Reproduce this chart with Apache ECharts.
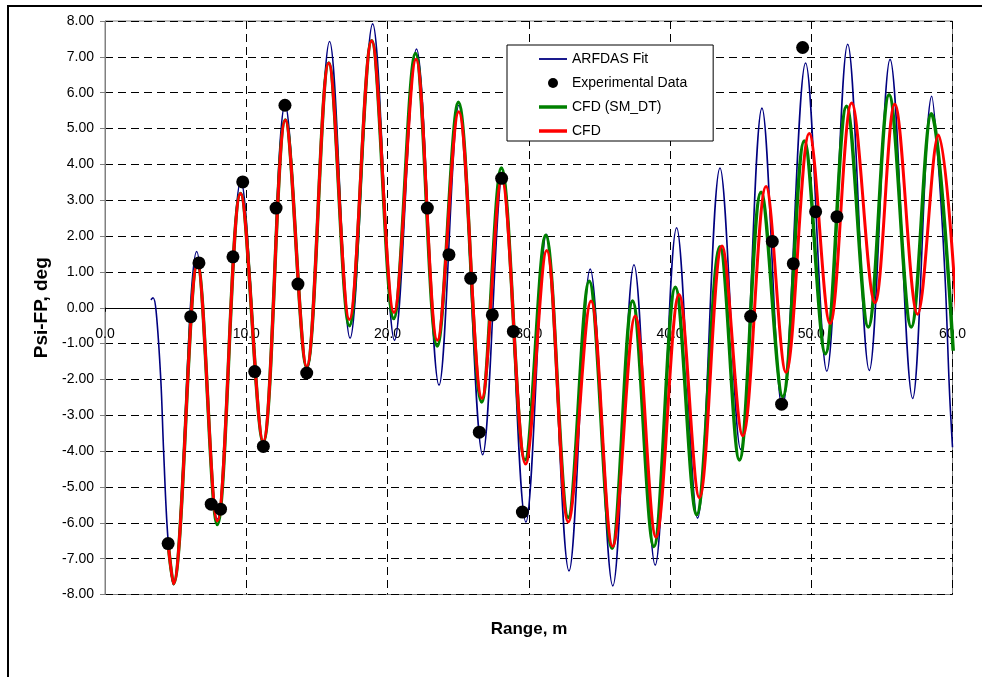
<!DOCTYPE html>
<html><head><meta charset="utf-8">
<script src="https://cdn.jsdelivr.net/npm/echarts@6/dist/echarts.min.js"></script>
<style>html,body{margin:0;padding:0;background:#fff}#c{width:982px;height:677px}</style>
</head><body><div id="c"></div>
<script>
// ---- tick labels ----
const xTickLabels = ['0.0','10.0','20.0','30.0','40.0','50.0','60.0'];
const yTickLabels = ['-8.00','-7.00','-6.00','-5.00','-4.00','-3.00','-2.00','-1.00','0.00','1.00','2.00','3.00','4.00','5.00','6.00','7.00','8.00'];

// ---- ARFDAS Fit ----
const arfdasX = [3.25,3.4,3.62,3.95,4.15,4.45,4.84,6.49,7.95,9.62,11.2,12.75,14.3,15.9,17.35,18.95,20.5,22.05,23.65,25.05,26.74,28.15,29.8,31.25,32.85,34.35,35.95,37.45,38.95,40.47,41.95,43.54,45.0,46.51,47.95,49.6,51.1,52.58,54.11,55.58,57.18,58.53,59.0,59.47,59.78,60.0];
const arfdasY = [0.22,0.28,-0.1,-2.0,-4.0,-6.4,-7.72,1.57,-5.9,3.55,-3.85,5.68,-1.75,7.43,-0.85,7.92,-0.91,7.22,-2.16,5.65,-4.1,3.75,-5.98,2.05,-7.34,1.08,-7.76,1.2,-7.18,2.23,-5.87,3.9,-3.95,5.57,-2.8,6.83,-1.77,7.35,-1.75,6.93,-2.53,5.9,4.0,0.87,-2.27,-3.89];

// ---- Experimental Data ----
const expX = [4.47,6.07,6.65,7.52,8.18,9.06,9.75,10.6,11.21,12.11,12.74,13.66,14.28,22.82,24.35,25.89,26.50,27.42,28.08,28.91,29.55,45.71,47.24,47.9,48.73,49.39,50.31,51.82];
const expY = [-6.58,-0.25,1.25,-5.48,-5.62,1.42,3.51,-1.78,-3.87,2.78,5.65,0.66,-1.82,2.78,1.48,0.82,-3.47,-0.20,3.61,-0.66,-5.70,-0.24,1.85,-2.69,1.23,7.26,2.68,2.54];

// ---- CFD (SM_DT) ----
const smdtX = [4.5,4.84,6.54,7.95,9.6,11.2,12.77,14.28,15.84,17.3,18.88,20.44,21.98,23.52,25.02,26.67,28.06,29.74,31.2,32.8,34.28,35.9,37.35,38.86,40.38,41.89,43.54,44.91,46.45,47.98,49.51,51.0,52.5,54.04,55.51,57.08,58.5,60.05];
const smdtY = [-6.7,-7.7,1.23,-6.05,3.19,-3.75,5.24,-1.66,6.83,-0.5,7.45,-0.3,7.09,-1.07,5.73,-2.63,3.90,-4.25,2.02,-5.85,0.74,-6.71,0.19,-6.66,0.57,-5.77,1.70,-4.25,3.22,-2.48,4.65,-1.28,5.62,-0.54,5.94,-0.54,5.41,-1.2];

// ---- CFD ----
const cfdX = [4.5,4.84,6.54,7.95,9.6,11.2,12.77,14.28,15.84,17.3,18.88,20.46,22.02,23.53,25.04,26.69,28.08,29.78,31.27,32.8,34.41,35.94,37.54,39.01,40.64,42.08,43.68,45.15,46.8,48.21,49.86,51.33,52.86,54.51,55.91,57.53,59.0,60.45];
const cfdY = [-6.7,-7.7,1.23,-5.95,3.19,-3.73,5.24,-1.64,6.83,-0.33,7.45,-0.13,6.93,-0.91,5.47,-2.53,3.59,-4.36,1.60,-5.98,0.19,-6.66,-0.23,-6.4,0.37,-5.3,1.72,-3.57,3.38,-1.80,4.86,-0.44,5.71,0.14,5.68,-0.18,4.82,-1.22];

const pairs = (xs, ys) => xs.map((x, i) => [x, ys[i]]);
const FONT = 'Liberation Sans, Arial, sans-serif';
const SMOOTH = 0.36;

const chart = echarts.init(document.getElementById('c'), null, {renderer: 'canvas'});
chart.setOption({
  animation: false,
  backgroundColor: '#ffffff',
  grid: {left: 105, top: 21, right: 29.5, bottom: 82.5, show: true, borderColor: '#808080', borderWidth: 1, backgroundColor: 'transparent'},
  xAxis: {
    type: 'value', min: 0, max: 60, interval: 10,
    axisLine: {show: true, onZero: true, lineStyle: {color: '#000', width: 1}},
    axisTick: {show: true, length: 4, lineStyle: {color: '#000'}},
    axisLabel: {margin: -267, fontSize: 14, color: '#000', fontFamily: FONT,
      formatter: v => xTickLabels[Math.round(v / 10)]},
    splitLine: {show: true, lineStyle: {color: '#000', type: [8, 5], width: 1}}
  },
  yAxis: {
    type: 'value', min: -8, max: 8, interval: 1,
    name: 'Psi-FP, deg', nameLocation: 'middle', nameGap: 53, nameRotate: 90,
    nameTextStyle: {fontSize: 19, fontWeight: 'bold', color: '#000', fontFamily: FONT},
    axisLine: {show: true, onZero: false, lineStyle: {color: '#808080', width: 1}},
    axisTick: {show: true, length: 5, lineStyle: {color: '#808080'}},
    axisLabel: {margin: 11, fontSize: 14, color: '#000', fontFamily: FONT,
      formatter: v => yTickLabels[Math.round(v) + 8]},
    splitLine: {show: true, lineStyle: {color: '#000', type: [8, 5], width: 1}}
  },
  legend: {
    left: 507, top: 45, orient: 'vertical',
    backgroundColor: '#fff', borderColor: '#000', borderWidth: 1, borderRadius: 0,
    padding: [7, 26, 3, 32], itemGap: 10, itemWidth: 28, itemHeight: 10,
    textStyle: {fontSize: 14, color: '#000', fontFamily: FONT},
    data: [
      {name: 'ARFDAS Fit', icon: 'path://M0,0H28V1.8H0Z'},
      {name: 'Experimental Data', icon: 'circle'},
      {name: 'CFD (SM_DT)', icon: 'path://M0,0H28V3.5H0Z'},
      {name: 'CFD', icon: 'path://M0,0H28V3.5H0Z'}
    ]
  },
  graphic: [
    {type: 'rect', silent: true, z: 100, shape: {x: 8, y: 6, width: 990, height: 700},
      style: {fill: 'none', stroke: '#000', lineWidth: 2}},
    {type: 'text', silent: true, style: {text: 'Range, m', x: 529, y: 629, align: 'center', verticalAlign: 'middle', font: 'bold 17px ' + FONT, fill: '#000'}}
  ],
  series: [
    {name: 'ARFDAS Fit', type: 'line', data: pairs(arfdasX, arfdasY), smooth: SMOOTH, showSymbol: false, symbol: 'none',
      lineStyle: {color: '#000080', width: 1.6}, itemStyle: {color: '#000080'}, z: 2},
    {name: 'CFD (SM_DT)', type: 'line', data: pairs(smdtX, smdtY), smooth: SMOOTH, showSymbol: false, symbol: 'none', clip: false,
      lineStyle: {color: '#008000', width: 3.5}, itemStyle: {color: '#008000'}, z: 3},
    {name: 'CFD', type: 'line', data: pairs(cfdX, cfdY), smooth: SMOOTH, showSymbol: false, symbol: 'none', clip: false,
      lineStyle: {color: '#ff0000', width: 3}, itemStyle: {color: '#ff0000'}, z: 4},
    {name: 'Experimental Data', type: 'scatter', data: pairs(expX, expY), symbol: 'circle', symbolSize: 13,
      itemStyle: {color: '#000', opacity: 1}, z: 5}
  ]
});
</script></body></html>
